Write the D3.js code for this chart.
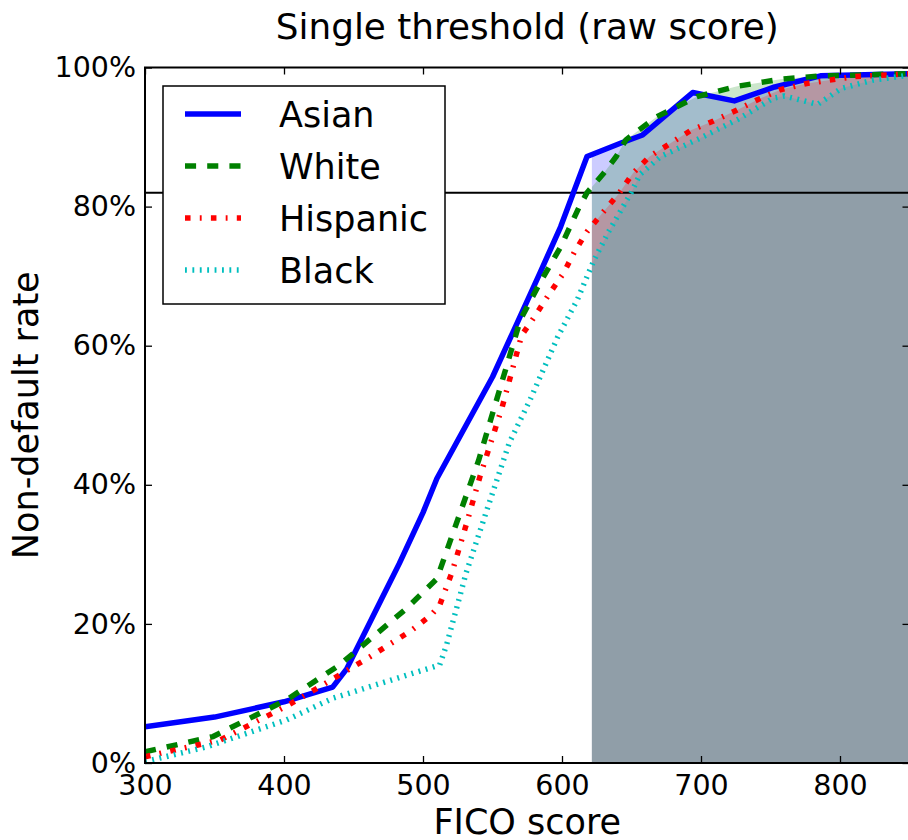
<!DOCTYPE html>
<html>
<head>
<meta charset="utf-8">
<script src="https://cdn.jsdelivr.net/npm/d3@7"></script>
<style>
  body { margin: 0; background: #fff; }
  svg { display: block; font-family: "DejaVu Sans", sans-serif; }
</style>
</head>
<body>
<svg id="chart"></svg>
<script>
// values (FICO score, non-default rate)
const groups = ["Asian", "White", "Hispanic", "Black"];

const asianScore = [300, 350, 400, 435, 445, 470, 483, 500, 510, 550, 584, 599, 618, 642, 658, 694, 724, 753, 786, 850];
const asianRate  = [0.052, 0.066, 0.088, 0.109, 0.135, 0.235, 0.287, 0.360, 0.409, 0.555, 0.704, 0.771, 0.872, 0.891, 0.903, 0.964, 0.952, 0.972, 0.988, 0.991];

const whiteScore = [300, 349, 402, 440, 488, 510, 540, 570, 584, 599, 612, 618, 630, 639, 646, 668, 697, 726, 757, 786, 850];
const whiteRate  = [0.016, 0.038, 0.091, 0.141, 0.222, 0.265, 0.435, 0.637, 0.690, 0.742, 0.798, 0.820, 0.848, 0.872, 0.896, 0.929, 0.958, 0.973, 0.983, 0.988, 0.991];

const hispScore = [300, 354, 402, 432, 462, 492, 506, 512, 521, 531, 541, 557, 571, 581, 591, 601, 609, 618, 630, 641, 651, 663, 678, 693, 709, 726, 741, 757, 776, 810, 850];
const hispRate  = [0.009, 0.033, 0.082, 0.117, 0.153, 0.191, 0.213, 0.227, 0.275, 0.342, 0.412, 0.512, 0.615, 0.644, 0.675, 0.704, 0.735, 0.764, 0.793, 0.819, 0.848, 0.872, 0.891, 0.910, 0.923, 0.939, 0.954, 0.968, 0.977, 0.987, 0.991];

const blackScore = [300, 344, 402, 435, 512, 517, 531, 546, 562, 577, 597, 611, 623, 633, 650, 656, 671, 700, 727, 752, 760, 784, 801, 824, 850];
const blackRate  = [0.002, 0.023, 0.062, 0.093, 0.141, 0.170, 0.273, 0.364, 0.460, 0.522, 0.613, 0.666, 0.723, 0.762, 0.821, 0.846, 0.872, 0.899, 0.926, 0.956, 0.959, 0.947, 0.970, 0.982, 0.989];

const threshold = 621.5;     // single raw-score cut-off
const hline = 0.82;          // horizontal reference line
const xTicks = [300, 400, 500, 600, 700, 800];
const yTicks = [0, 0.2, 0.4, 0.6, 0.8, 1.0];

const colors = { Asian: "#0000ff", White: "#008000", Hispanic: "#ff0000", Black: "#00bfbf" };
const dashes = { Asian: null, White: "11.1,11.1", Hispanic: "5.55,9.25,1.85,9.25", Black: "1.85,5.55" };

const series = [
  { name: "Asian", s: asianScore, r: asianRate },
  { name: "White", s: whiteScore, r: whiteRate },
  { name: "Hispanic", s: hispScore, r: hispRate },
  { name: "Black", s: blackScore, r: blackRate }
].map(g => ({ name: g.name, pts: g.s.map((v, i) => ({ score: v, rate: g.r[i] })) }));

const width = 908, height = 840;
const m = { left: 145, right: 909.5, top: 67.5, bottom: 763 };

const svg = d3.select("#chart").attr("width", width).attr("height", height);

const x = d3.scaleLinear().domain([300, 850]).range([m.left, m.right]);
const y = d3.scaleLinear().domain([0, 1]).range([m.bottom, m.top]);

const defs = svg.append("defs");
defs.append("clipPath").attr("id", "thr")
  .append("rect")
  .attr("x", x(threshold)).attr("y", m.top)
  .attr("width", m.right - x(threshold)).attr("height", m.bottom - m.top);

defs.append("clipPath").attr("id", "plot")
  .append("rect")
  .attr("x", m.left).attr("y", m.top - 4)
  .attr("width", m.right - m.left).attr("height", m.bottom - m.top + 8);

// shaded areas above the threshold
const area = d3.area().x(d => x(d.score)).y0(y(0)).y1(d => y(d.rate));
svg.append("g").attr("clip-path", "url(#thr)")
  .selectAll("path").data(series).join("path")
  .attr("d", d => area(d.pts))
  .attr("fill", d => colors[d.name])
  .attr("fill-opacity", 0.2);

// reference line
svg.append("line")
  .attr("x1", m.left).attr("x2", m.right)
  .attr("y1", y(hline)).attr("y2", y(hline))
  .attr("stroke", "#000").attr("stroke-width", 2);

// curves
const line = d3.line().x(d => x(d.score)).y(d => y(d.rate));
svg.append("g").attr("clip-path", "url(#plot)")
  .selectAll("path").data(series).join("path")
  .attr("d", d => line(d.pts))
  .attr("fill", "none")
  .attr("stroke", d => colors[d.name])
  .attr("stroke-width", 5.5)
  .attr("stroke-linejoin", "round")
  .attr("stroke-dasharray", d => dashes[d.name]);

// axes, ticks pointing inward
const tickFont = "28.5px";
const xAxis = svg.append("g").attr("transform", `translate(0,${m.bottom})`)
  .call(d3.axisBottom(x).tickValues(xTicks).tickSizeInner(-7).tickSizeOuter(0).tickPadding(12));
const yAxis = svg.append("g").attr("transform", `translate(${m.left},0)`)
  .call(d3.axisLeft(y).tickValues(yTicks).tickSizeInner(-7).tickSizeOuter(0).tickPadding(9)
    .tickFormat(d3.format(".0%")));
const xTop = svg.append("g").attr("transform", `translate(0,${m.top})`)
  .call(d3.axisTop(x).tickValues(xTicks).tickSizeInner(-7).tickSizeOuter(0).tickFormat(""));
const yRight = svg.append("g").attr("transform", `translate(${m.right},0)`)
  .call(d3.axisRight(y).tickValues(yTicks).tickSizeInner(-7).tickSizeOuter(0).tickFormat(""));

[xAxis, yAxis, xTop, yRight].forEach(g => {
  g.select(".domain").remove();
  g.selectAll(".tick line").attr("stroke", "#000").attr("stroke-width", 1.3);
  g.selectAll(".tick text")
    .attr("fill", "#000")
    .style("font-family", "DejaVu Sans")
    .style("font-size", tickFont);
});

// spines
svg.append("rect")
  .attr("x", m.left).attr("y", m.top)
  .attr("width", m.right - m.left).attr("height", m.bottom - m.top)
  .attr("fill", "none").attr("stroke", "#000").attr("stroke-width", 2);

// title and axis labels
svg.append("text")
  .attr("x", (m.left + m.right) / 2).attr("y", 39)
  .attr("text-anchor", "middle")
  .style("font-size", "35.8px")
  .text("Single threshold (raw score)");

svg.append("text")
  .attr("x", (m.left + m.right) / 2).attr("y", 834)
  .attr("text-anchor", "middle")
  .style("font-size", "35px")
  .text("FICO score");

svg.append("text")
  .attr("transform", `translate(38,${(m.top + m.bottom) / 2}) rotate(-90)`)
  .attr("text-anchor", "middle")
  .style("font-size", "35px")
  .text("Non-default rate");

// legend
const legend = svg.append("g");
legend.append("rect")
  .attr("x", 163).attr("y", 86).attr("width", 282).attr("height", 218)
  .attr("fill", "#fff").attr("stroke", "#000").attr("stroke-width", 1.5);

const rowY = [114, 166, 218, 270];
const item = legend.selectAll("g.item").data(groups).join("g").attr("class", "item")
  .attr("transform", (d, i) => `translate(0,${rowY[i]})`);
item.append("line")
  .attr("x1", 185).attr("x2", 241).attr("y1", 0).attr("y2", 0)
  .attr("stroke", d => colors[d])
  .attr("stroke-width", 5.5)
  .attr("stroke-dasharray", d => dashes[d]);
item.append("text")
  .attr("x", 279).attr("y", 13)
  .style("font-size", "35px")
  .text(d => d);
</script>
</body>
</html>
